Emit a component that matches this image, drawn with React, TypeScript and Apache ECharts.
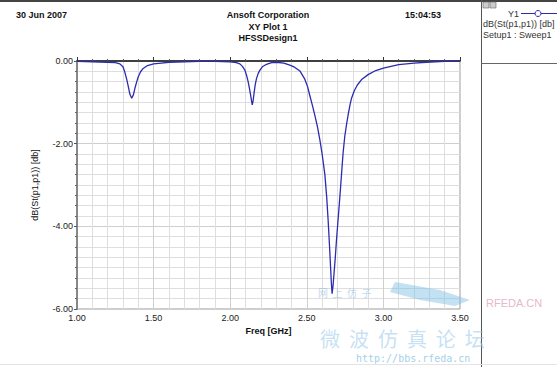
import React, { useEffect, useRef } from "react";
import * as echarts from "echarts";

const freqGHz = [
  1.0, 1.1, 1.2, 1.25, 1.28, 1.3, 1.313, 1.325, 1.335, 1.345, 1.357, 1.368, 1.378, 1.39, 1.4, 1.415, 1.432, 1.46, 1.5,
  1.55, 1.6, 1.7, 1.8, 1.9, 2.0, 2.04, 2.063, 2.08, 2.096, 2.107, 2.117, 2.125, 2.133, 2.139, 2.144, 2.15, 2.157, 2.164,
  2.172, 2.183, 2.194, 2.21, 2.237, 2.27, 2.303, 2.35, 2.389, 2.42, 2.455, 2.487, 2.505, 2.52, 2.537, 2.553, 2.57, 2.585,
  2.6, 2.618, 2.63, 2.64, 2.648, 2.655, 2.66, 2.665, 2.671, 2.678, 2.686, 2.694, 2.705, 2.716, 2.727, 2.737, 2.748, 2.76,
  2.77, 2.781, 2.792, 2.81, 2.83, 2.86, 2.9, 2.95, 3.0, 3.05, 3.1, 3.15, 3.2, 3.28, 3.4, 3.5,
];
const s11dB = [
  -0.01, -0.02, -0.03, -0.04, -0.07, -0.14, -0.28, -0.45, -0.62, -0.8, -0.9, -0.82, -0.66, -0.5, -0.38, -0.26, -0.18,
  -0.11, -0.07, -0.05, -0.03, -0.02, -0.01, -0.01, -0.02, -0.04, -0.07, -0.13, -0.22, -0.35, -0.5, -0.65, -0.82, -0.96,
  -1.06, -0.95, -0.74, -0.56, -0.42, -0.3, -0.22, -0.14, -0.08, -0.04, -0.03, -0.05, -0.1, -0.15, -0.24, -0.44, -0.62,
  -0.84, -1.08, -1.32, -1.6, -1.9, -2.25, -2.75, -3.3, -3.9, -4.45, -4.97, -5.35, -5.63, -5.45, -5.13, -4.75, -4.32,
  -3.8, -3.28, -2.72, -2.22, -1.82, -1.52, -1.3, -1.08, -0.9, -0.72, -0.58, -0.44, -0.33, -0.23, -0.17, -0.13, -0.09,
  -0.07, -0.05, -0.03, -0.01, 0.0,
];

const xTicks = [1.0, 1.5, 2.0, 2.5, 3.0, 3.5];
const yTicks = [-6, -4, -2, 0];

const FONT = "Liberation Sans, Arial, sans-serif";
const LINE = "#2b2bb0";

export default function App() {
  const ref = useRef<HTMLDivElement>(null);
  useEffect(() => {
    if (!ref.current) return;
    const chart = echarts.init(ref.current, undefined, { renderer: "svg" });
    const data = freqGHz.map((f, i) => [f, s11dB[i]]);
    const hdr = { fontFamily: FONT, fontSize: 9, fontWeight: "bold" as const, fill: "#111" };
    chart.setOption({
      animation: false,
      backgroundColor: "#fff",
      grid: {
        left: 77,
        right: 97,
        top: 61,
        bottom: 58,
        show: true,
        borderColor: "#999",
        borderWidth: 1,
        backgroundColor: "transparent",
      },
      xAxis: {
        type: "value",
        min: xTicks[0],
        max: xTicks[xTicks.length - 1],
        interval: 0.5,
        name: "Freq [GHz]",
        nameLocation: "middle",
        nameGap: 16,
        nameTextStyle: { fontFamily: FONT, fontSize: 9, fontWeight: "bold", color: "#111" },
        axisLine: { lineStyle: { color: "#111", width: 1.5 } },
        axisTick: { show: true, inside: true, length: 4, lineStyle: { color: "#333" } },
        minorTick: { show: true, splitNumber: 5, length: 2, lineStyle: { color: "#555" } },
        axisLabel: {
          fontFamily: FONT,
          fontSize: 9,
          color: "#222",
          margin: 4,
          formatter: (v: number) => v.toFixed(2),
        },
        splitLine: { show: true, lineStyle: { color: "#cfcfcf", width: 1 } },
        minorSplitLine: { show: true, lineStyle: { color: "#dedede", width: 1 } },
      },
      yAxis: {
        type: "value",
        min: yTicks[0],
        max: yTicks[yTicks.length - 1],
        interval: 2,
        name: "dB(St(p1,p1)) [db]",
        nameLocation: "middle",
        nameGap: 38,
        nameTextStyle: { fontFamily: FONT, fontSize: 9, color: "#111" },
        axisLine: { show: true, lineStyle: { color: "#888", width: 2 } },
        axisTick: { show: true, inside: false, length: 3, lineStyle: { color: "#555" } },
        minorTick: { show: true, splitNumber: 8, length: 2, lineStyle: { color: "#666" } },
        axisLabel: {
          fontFamily: FONT,
          fontSize: 9,
          color: "#222",
          margin: 4,
          formatter: (v: number) => v.toFixed(2),
        },
        splitLine: { show: true, lineStyle: { color: "#cfcfcf", width: 1 } },
        minorSplitLine: { show: true, lineStyle: { color: "#dedede", width: 1 } },
      },
      series: [
        {
          type: "line",
          data,
          showSymbol: false,
          smooth: false,
          lineStyle: { color: LINE, width: 1.3 },
          z: 5,
        },
      ],
      graphic: [
        // header
        { type: "text", left: 16, top: 10, style: { ...hdr, text: "30 Jun 2007" } },
        { type: "text", x: 268, y: 10, style: { ...hdr, text: "Ansoft Corporation", align: "center" } },
        { type: "text", x: 268, y: 22, style: { ...hdr, text: "XY Plot 1", align: "center" } },
        { type: "text", x: 268, y: 33, style: { ...hdr, text: "HFSSDesign1", align: "center" } },
        { type: "text", x: 405, y: 10, style: { ...hdr, text: "15:04:53" } },
        // frame lines
        { type: "line", shape: { x1: 0, y1: 1, x2: 557, y2: 1 }, style: { stroke: "#444", lineWidth: 2 } },
        { type: "line", shape: { x1: 481.5, y1: 0, x2: 481.5, y2: 367 }, style: { stroke: "#555", lineWidth: 1 } },
        { type: "line", shape: { x1: 481, y1: 63.5, x2: 557, y2: 63.5 }, style: { stroke: "#666", lineWidth: 1 } },
        { type: "line", shape: { x1: 0, y1: 364.5, x2: 557, y2: 364.5 }, style: { stroke: "#e4e4e4", lineWidth: 1 } },
        // legend panel
        { type: "rect", shape: { x: 483, y: 2, width: 6, height: 6 }, style: { fill: "#ccc", stroke: "#666", lineWidth: 0.6 } },
        { type: "rect", shape: { x: 490, y: 2, width: 6, height: 6 }, style: { fill: "#ccc", stroke: "#666", lineWidth: 0.6 } },
        { type: "text", x: 519, y: 9, style: { fontFamily: FONT, fontSize: 9, fill: "#333", text: "Y1", align: "right" } },
        { type: "line", shape: { x1: 521, y1: 13.5, x2: 557, y2: 13.5 }, style: { stroke: LINE, lineWidth: 1 } },
        { type: "circle", shape: { cx: 538, cy: 13.5, r: 3 }, style: { fill: "#fff", stroke: LINE, lineWidth: 1 } },
        { type: "text", x: 483, y: 19, style: { fontFamily: FONT, fontSize: 9, fill: "#333", text: "dB(St(p1,p1)) [db]" } },
        { type: "text", x: 483, y: 30, style: { fontFamily: FONT, fontSize: 9, fill: "#333", text: "Setup1 : Sweep1" } },
        // watermark
        {
          type: "polygon",
          shape: { points: [[395, 282], [440, 290], [470, 300], [455, 306], [420, 300], [390, 292]] },
          style: { fill: "rgba(120,190,230,0.45)" },
          z: 1,
        },
        { type: "text", x: 486, y: 297, style: { fontFamily: FONT, fontSize: 11, fill: "#e6b8cc", text: "RFEDA.CN" }, z: 1 },
        { type: "text", x: 318, y: 287, style: { fontFamily: "Noto Sans CJK SC", fontSize: 10, fill: "rgba(130,180,220,0.5)", text: "网  上  仿  子" }, z: 1 },
        { type: "text", x: 320, y: 328, style: { fontFamily: "Noto Sans CJK SC", fontSize: 20, fill: "rgba(150,200,235,0.55)", text: "微  波  仿  真  论  坛" }, z: 1 },
        { type: "text", x: 356, y: 353, style: { fontFamily: "DejaVu Sans Mono", fontSize: 10, fill: "rgba(140,195,230,0.8)", text: "http://bbs.rfeda.cn" }, z: 1 },
      ],
    });
    return () => chart.dispose();
  }, []);
  return <div ref={ref} style={{ position: "fixed", left: 0, top: 0, width: 557, height: 367 }} />;
}
